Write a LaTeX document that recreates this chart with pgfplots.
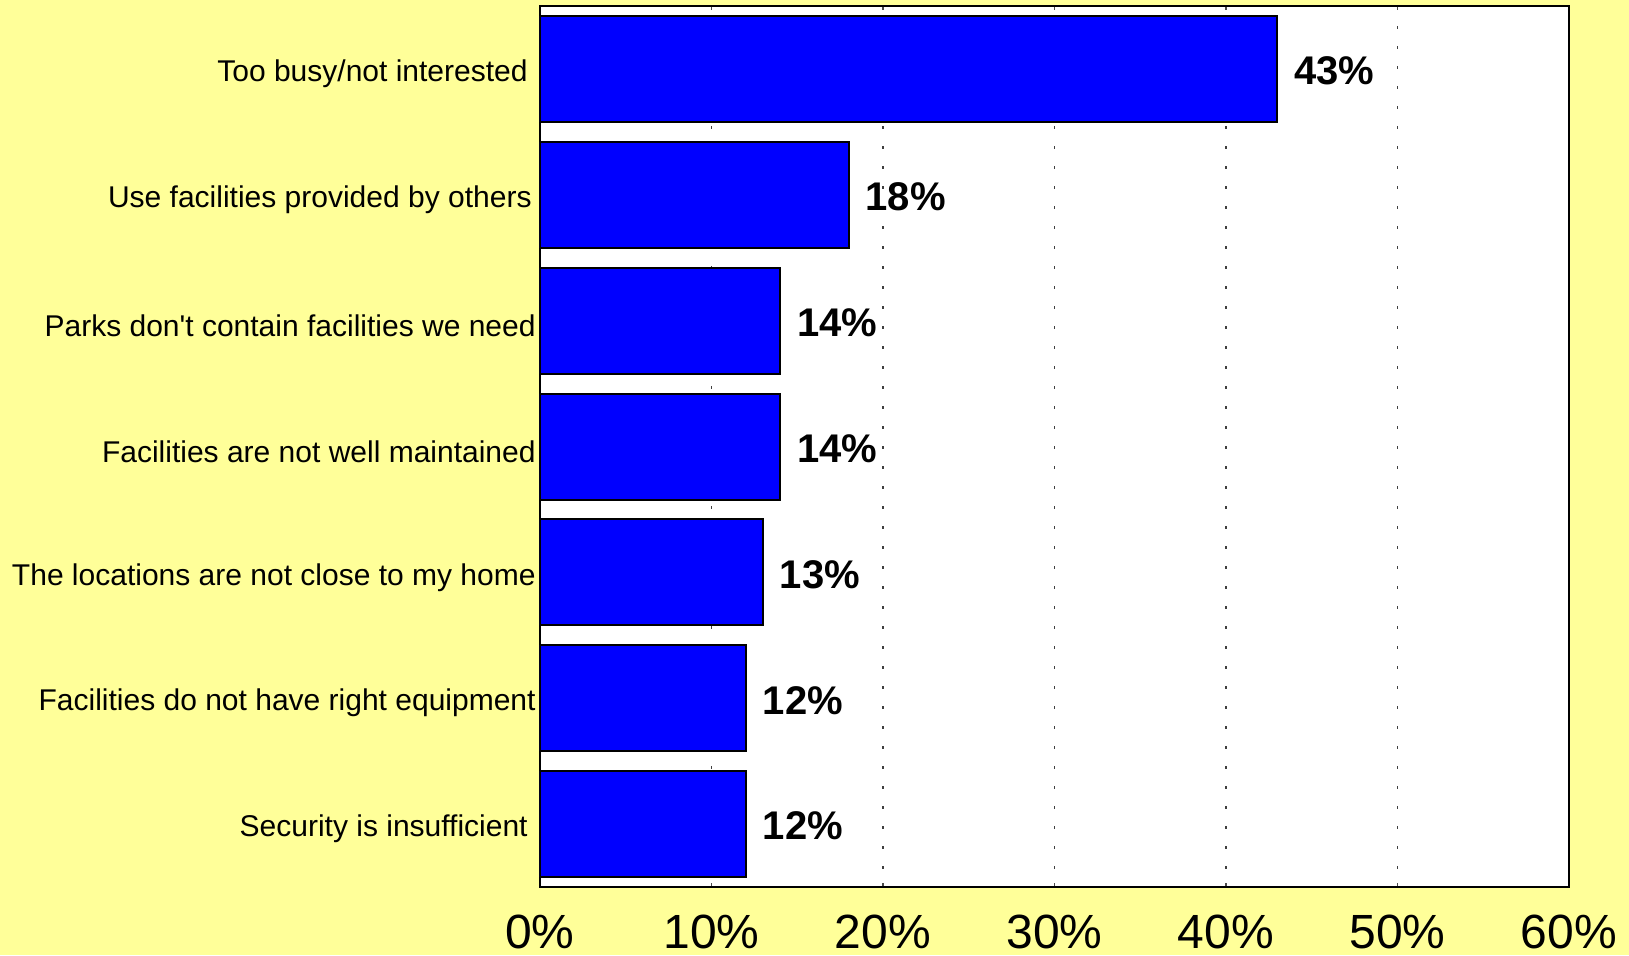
\documentclass[border=0pt]{standalone}
\usepackage{pgfplots}
\pgfplotsset{compat=1.18}
\usepackage{fontspec}
\setmainfont{Liberation Sans}
\definecolor{bgyellow}{HTML}{FFFF99}
\definecolor{barblue}{HTML}{0000FF}
\begin{document}
\begin{tikzpicture}
\fill[bgyellow] (-270pt,-34pt) rectangle (544.5pt,443.5pt);
\useasboundingbox (-270pt,-34pt) rectangle (544.5pt,443.5pt);
\begin{axis}[
  at={(0,0)}, anchor=south west,
  scale only axis, width=514.5pt, height=440.5pt,
  xbar, bar width=0.842,
  xmin=0, xmax=60, ymin=-0.5, ymax=6.5,
  y dir=reverse,
  axis background/.style={fill=white},
  axis line style={line width=1pt},
  xtick={0,10,20,30,40,50,60},
  xticklabel={\pgfmathprintnumber{\tick}\%},
  xticklabel style={font=\fontsize{24}{28}\selectfont, anchor=north, inner sep=0pt, yshift=-14pt},
  /pgf/number format/assume math mode=true,
  ytick={0,1,2,3,4,5,6},
  yticklabels={Too busy/not interested\kern4pt, Use facilities provided by others\kern2pt, Parks don\textquotesingle t contain facilities we need, Facilities are not well maintained, The locations are not close to my home, Facilities do not have right equipment, Security is insufficient\kern4pt},
  yticklabel style={font=\fontsize{15}{18}\selectfont, anchor=east, inner sep=0pt, xshift=-2pt, yshift=-2.5pt},
  ytick style={draw=none},
  tick align=inside, major tick length=2pt,
  xtick style={black!70, line width=0.6pt},
  xmajorgrids,
  major grid style={black!75, line width=0.6pt, dash pattern=on 1.5pt off 8.5pt},
  nodes near coords={\pgfmathprintnumber{\pgfplotspointmeta}\%},
  nodes near coords style={font=\fontsize{20}{24}\selectfont\bfseries, anchor=west, inner sep=0pt, xshift=8pt, yshift=-1pt, black},
  point meta=x,
]
\addplot[fill=barblue, draw=black, line width=1pt] coordinates {
  (43,0) (18,1) (14,2) (14,3) (13,4) (12,5) (12,6)
};
\end{axis}
\end{tikzpicture}
\end{document}
